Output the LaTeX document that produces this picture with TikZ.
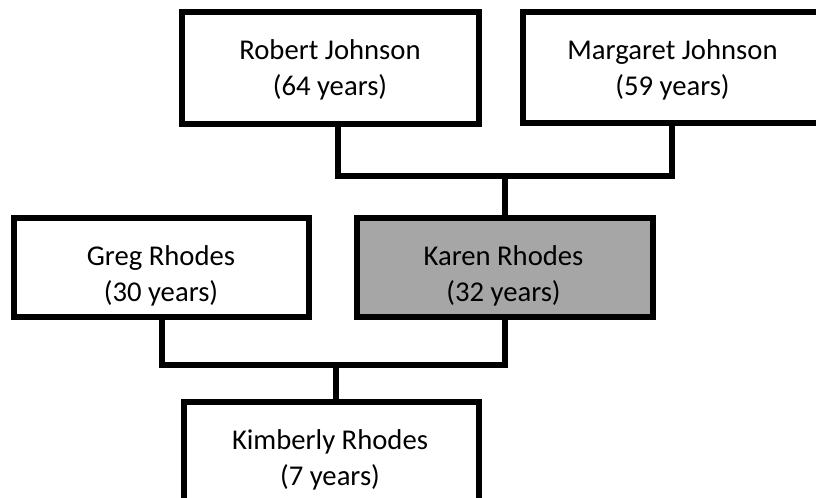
\documentclass[tikz,border=0pt]{standalone}
\usepackage{fontspec}
\setmainfont{Carlito}
\usetikzlibrary{backgrounds}
\definecolor{boxgray}{RGB}{166,166,166}
\begin{document}
\begin{tikzpicture}[x=0.75pt,y=-0.75pt,
  person/.style={draw=black, line width=4.5pt, fill=white, rectangle, inner sep=0pt, outer sep=0pt},
  txt/.style={align=center, inner sep=0pt, font=\fontsize{21.5}{26.8}\selectfont, text=black},
  conn/.style={draw=black, line width=4.5pt}]
\clip (0,0) rectangle (816,497);
% boxes (centre-line sizes)
\node[person, minimum width=297*0.75pt, minimum height=112*0.75pt] (robert) at (330.5,68) {};
\node[person, minimum width=297*0.75pt, minimum height=111*0.75pt] (margaret) at (671,67.5) {};
\node[person, minimum width=295*0.75pt, minimum height=99*0.75pt] (greg) at (161.5,267.5) {};
\node[person, fill=boxgray, minimum width=296*0.75pt, minimum height=99*0.75pt] (karen) at (504.5,267.5) {};
\node[person, minimum width=295*0.75pt, minimum height=112*0.75pt] (kim) at (331.5,458) {};
% connectors
\coordinate (rx) at (338,0);
\coordinate (mx) at (671.5,0);
\coordinate (topj) at (505,175.5);
\coordinate (botj) at (335.5,365);
\begin{scope}[on background layer]
\draw[conn] (rx |- robert.south) |- (topj) -| (mx |- margaret.south);
\draw[conn] (topj) -- (topj |- karen.north);
\draw[conn] (greg.south) |- (botj) -| (karen.south);
\draw[conn] (botj) -- (botj |- kim.north);
\end{scope}
% texts
\node[txt] (robertT) at (330,69.7) {Robert Johnson\\(64 years)};
\node[txt] (margaretT) at (672.5,69.7) {Margaret Johnson\\(59 years)};
\node[txt] (gregT) at (161,275.6) {Greg Rhodes\\(30 years)};
\node[txt] (karenT) at (503.5,275.6) {Karen Rhodes\\(32 years)};
\node[txt] (kimT) at (330,459.7) {Kimberly Rhodes\\(7 years)};
\end{tikzpicture}
\end{document}
